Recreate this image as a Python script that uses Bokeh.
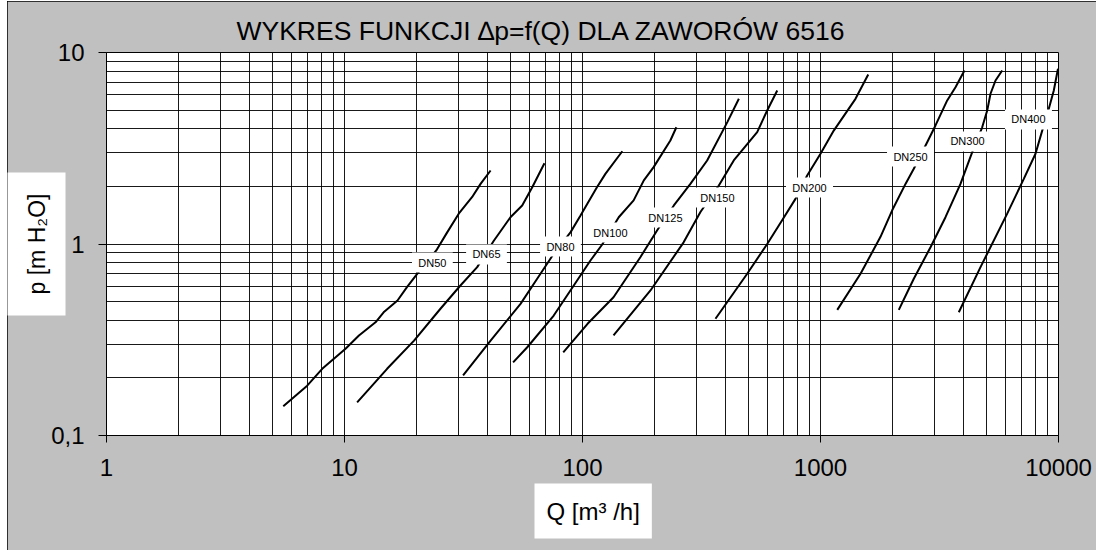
from bokeh.plotting import figure
from bokeh.models import FixedTicker, ColumnDataSource, Title
from bokeh.embed import file_html
from bokeh.resources import INLINE
from bokeh.core.properties import value

# ---------------- data (Q in m3/h, p in m H2O) ----------------
dn50_q = [5.53, 6.97, 8.06, 10.1, 11.5, 13.5, 14.6, 16.7, 18.3, 20.2, 24.3, 27.0, 30.2, 34.4, 37.3, 41.1]
dn50_p = [0.142, 0.182, 0.223, 0.284, 0.333, 0.390, 0.440, 0.507, 0.595, 0.699, 0.925, 1.15, 1.44, 1.76, 2.06, 2.42]

dn65_q = [11.3, 15.1, 19.6, 25.3, 30.7, 36.1, 42.4, 49.8, 55.8, 61.5, 69.2]
dn65_p = [0.149, 0.223, 0.313, 0.459, 0.607, 0.757, 1.04, 1.38, 1.59, 1.98, 2.64]

dn80_q = [31.5, 41.1, 54.9, 64.5, 75.7, 89.0, 98.1, 115, 125, 147]
dn80_p = [0.206, 0.313, 0.487, 0.658, 0.889, 1.15, 1.41, 1.98, 2.33, 3.05]

dn100_q = [51.1, 58.6, 75.7, 91.9, 108, 121, 142, 164, 181, 199, 234, 248]
dn100_p = [0.241, 0.289, 0.423, 0.607, 0.820, 0.994, 1.38, 1.69, 2.15, 2.52, 3.47, 4.07]

dn125_q = [83.0, 105, 135, 175, 206, 242, 284, 334, 406, 454]
dn125_p = [0.272, 0.383, 0.527, 0.853, 1.18, 1.59, 2.06, 2.73, 4.33, 5.73]

dn150_q = [135, 193, 266, 313, 374, 432, 542, 597, 658]
dn150_p = [0.333, 0.572, 1.02, 1.47, 2.02, 2.73, 3.84, 4.98, 6.33]

dn200_q = [362, 492, 597, 690, 785, 879, 1000, 1137, 1403, 1587]
dn200_p = [0.407, 0.699, 1.00, 1.33, 1.72, 2.28, 2.96, 3.91, 5.73, 7.68]

dn250_q = [1176, 1473, 1787, 2001, 2276, 2466, 2807, 3042, 3407, 3692, 4027]
dn250_p = [0.453, 0.699, 1.09, 1.50, 2.06, 2.47, 3.40, 4.16, 5.62, 6.59, 8.05]

dn300_q = [2133, 2389, 2466, 2899, 3351, 3874, 4340, 4779, 5017, 5180, 5437, 5799]
dn300_p = [0.453, 0.607, 0.658, 0.962, 1.38, 2.06, 3.02, 4.07, 4.98, 6.09, 7.14, 8.05]

dn400_q = [3811, 4702, 6088, 7148, 8005, 8542, 9104, 9556, 9950]
dn400_p = [0.440, 0.757, 1.44, 2.19, 2.96, 3.91, 5.08, 6.33, 8.22]

label_names = ["DN50", "DN65", "DN80", "DN100", "DN125", "DN150", "DN200", "DN250", "DN300", "DN400"]
label_q = [23.4, 39.5, 80.8, 131, 223, 369, 899, 2389, 4146, 7478]
label_p = [0.800, 0.882, 0.970, 1.148, 1.375, 1.749, 1.972, 2.863, 3.43, 4.47]

x_major = [1, 10, 100, 1000, 10000]
x_major_labels = ["1", "10", "100", "1000", "10000"]
y_major = [0.1, 1, 10]
y_major_labels = ["0,1", "1", "10"]

title_text = "WYKRES FUNKCJI \u2206p=f(Q) DLA ZAWORÓW 6516"
ylabel_text = "p [m H\u2082O]"
xlabel_text = "Q [m\u00b3 /h]"

# ---------------- figure ----------------
FONT = "Liberation Sans"

p = figure(x_axis_type="log", y_axis_type="log",
           x_range=(1, 10000), y_range=(0.1, 10),
           frame_width=952, frame_height=383,
           min_border_left=99, min_border_right=38,
           min_border_top=51, min_border_bottom=115,
           output_backend="svg", toolbar_location=None)

p.background_fill_color = "white"
p.border_fill_color = "#c0c0c0"
p.outline_line_color = "black"
p.outline_line_width = 1
p.styles = {"margin-left": "7px", "margin-top": "1px",
            "outline": "1px solid black", "outline-offset": "-1px"}

x_minor = [m * 10 ** d for d in range(0, 4) for m in range(2, 10)]
y_minor = [m * 10.0 ** d for d in (-1, 0) for m in range(2, 10)]
p.xaxis.ticker = FixedTicker(ticks=x_major, minor_ticks=x_minor)
p.yaxis.ticker = FixedTicker(ticks=y_major, minor_ticks=y_minor)
p.xaxis.major_label_overrides = {float(v): s for v, s in zip(x_major, x_major_labels)}
p.yaxis.major_label_overrides = {float(v): s for v, s in zip(y_major, y_major_labels)}

for ax in (p.xaxis[0], p.yaxis[0]):
    ax.major_label_text_font = FONT
    ax.major_label_text_font_size = "24px"
    ax.major_label_text_color = "black"
    ax.axis_line_color = "black"
    ax.major_tick_line_color = "black"
    ax.major_tick_in = 0
    ax.minor_tick_in = 0
    ax.minor_tick_out = 0
p.xaxis.major_tick_out = 7
p.yaxis.major_tick_out = 8
p.xaxis.major_label_standoff = 16
p.yaxis.major_label_standoff = 14

p.grid.grid_line_color = "black"
p.grid.grid_line_alpha = 0.9
p.grid.minor_grid_line_color = "black"
p.grid.minor_grid_line_alpha = 0.9

series = [(dn50_q, dn50_p), (dn65_q, dn65_p), (dn80_q, dn80_p), (dn100_q, dn100_p),
          (dn125_q, dn125_p), (dn150_q, dn150_p), (dn200_q, dn200_p), (dn250_q, dn250_p),
          (dn300_q, dn300_p), (dn400_q, dn400_p)]
for qs, ps in series:
    p.line(qs, ps, line_color="black", line_width=2)

src = ColumnDataSource(dict(q=label_q, p=label_p, name=label_names,
                            w=[len(n) * 6.2 + 16 for n in label_names]))
p.rect(x="q", y="p", width="w", height=20, width_units="screen", height_units="screen",
       fill_color="white", line_color=None, source=src)
p.text(x="q", y="p", text="name", source=src, text_font=value(FONT), text_font_size="11px",
       text_align="center", text_baseline="middle", text_color="black")

# main title
p.title.text = title_text
p.title.align = "left"
p.title.offset = 130
p.title.standoff = 14
p.title.text_font = FONT
p.title.text_font_size = "26.5px"
p.title.text_font_style = "normal"
p.title.text_color = "black"

# axis captions in white boxes
ylab = Title(text=ylabel_text, align="center", standoff=-34,
             text_font=FONT, text_font_size="23px", text_font_style="normal",
             text_color="black", background_fill_color="white",
             padding=(21, 16))
p.add_layout(ylab, "left")

xlab = Title(text=xlabel_text, align="left", offset=428, standoff=6,
             text_font=FONT, text_font_size="24px", text_font_style="normal",
             text_color="black", background_fill_color="white",
             padding=(12, 14))
p.add_layout(xlab, "below")

open("out.html", "w").write(file_html(p, INLINE))
